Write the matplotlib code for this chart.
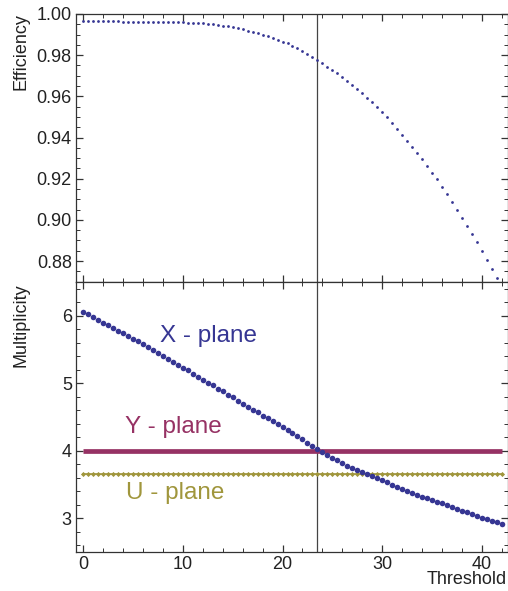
import matplotlib
matplotlib.use("Agg")
import matplotlib.pyplot as plt
from matplotlib.ticker import MultipleLocator

plt.rcParams['font.family'] = ['Liberation Sans', 'DejaVu Sans']

threshold = [0.0, 0.5, 1.0, 1.5, 2.0, 2.5, 3.0, 3.5, 4.0, 4.5, 5.0, 5.5, 6.0, 6.5, 7.0, 7.5,
             8.0, 8.5, 9.0, 9.5, 10.0, 10.5, 11.0, 11.5, 12.0, 12.5, 13.0, 13.5, 14.0, 14.5,
             15.0, 15.5, 16.0, 16.5, 17.0, 17.5, 18.0, 18.5, 19.0, 19.5, 20.0, 20.5, 21.0,
             21.5, 22.0, 22.5, 23.0, 23.5, 24.0, 24.5, 25.0, 25.5, 26.0, 26.5, 27.0, 27.5,
             28.0, 28.5, 29.0, 29.5, 30.0, 30.5, 31.0, 31.5, 32.0, 32.5, 33.0, 33.5, 34.0,
             34.5, 35.0, 35.5, 36.0, 36.5, 37.0, 37.5, 38.0, 38.5, 39.0, 39.5, 40.0, 40.5,
             41.0, 41.5, 42.0]

efficiency = [0.9967, 0.9967, 0.9967, 0.9967, 0.9967, 0.9967, 0.9967, 0.9967,
              0.9963, 0.9963, 0.9963, 0.9963, 0.9963, 0.9963, 0.9963, 0.9963, 0.9963,
              0.9962, 0.9962, 0.9961, 0.9959, 0.9958, 0.9957, 0.9955, 0.9954, 0.9952,
              0.9950, 0.9947, 0.9943, 0.9940, 0.9936, 0.9932, 0.9926, 0.9919, 0.9913,
              0.9906, 0.9898, 0.9892, 0.9883, 0.9874, 0.9865, 0.9857, 0.9845, 0.9833,
              0.9820, 0.9806, 0.9791, 0.9776, 0.9760, 0.9744, 0.9728, 0.9711, 0.9694,
              0.9675, 0.9656, 0.9636, 0.9615, 0.9594, 0.9571, 0.9547, 0.9523, 0.9498,
              0.9472, 0.9443, 0.9414, 0.9385, 0.9355, 0.9324, 0.9294, 0.9262, 0.9229,
              0.9196, 0.9161, 0.9124, 0.9087, 0.9049, 0.9011, 0.8971, 0.8931, 0.8891,
              0.8849, 0.8806, 0.8763, 0.8719, 0.8660]

mult_x = [6.05, 6.02, 5.98, 5.94, 5.90, 5.86, 5.82, 5.78, 5.74, 5.70, 5.66, 5.62, 5.58,
          5.53, 5.49, 5.45, 5.40, 5.36, 5.32, 5.27, 5.23, 5.19, 5.14, 5.10, 5.05, 5.01,
          4.97, 4.92, 4.88, 4.83, 4.79, 4.74, 4.70, 4.65, 4.61, 4.57, 4.52, 4.48, 4.44,
          4.39, 4.35, 4.31, 4.26, 4.22, 4.17, 4.12, 4.07, 4.02, 3.98, 3.94, 3.90, 3.86,
          3.82, 3.78, 3.75, 3.71, 3.68, 3.65, 3.62, 3.59, 3.56, 3.53, 3.50, 3.47, 3.44,
          3.41, 3.38, 3.35, 3.32, 3.30, 3.27, 3.24, 3.22, 3.19, 3.16, 3.14, 3.11, 3.09,
          3.06, 3.04, 3.01, 2.99, 2.96, 2.94, 2.91]

mult_y_level = 4.0
mult_u_level = 3.65
chosen_threshold = 23.5

series_labels = ["X - plane", "Y - plane", "U - plane"]

c_x = "#363693"
c_y = "#963264"
c_u = "#a0963c"
frame_c = "#333333"

fig = plt.figure(figsize=(5.08, 5.91), dpi=100)
W, H = 508, 591
left, right = 76 / W, 507.5 / W
ax1 = fig.add_axes([left, 1 - 282 / H, right - left, (282 - 14) / H])
ax2 = fig.add_axes([left, 1 - 552 / H, right - left, (552 - 282) / H])

for ax in (ax1, ax2):
    ax.set_xlim(-0.75, 42.6)
    ax.xaxis.set_major_locator(MultipleLocator(10))
    ax.xaxis.set_minor_locator(MultipleLocator(2))
    ax.tick_params(which='both', direction='in', top=True, right=True,
                   color=frame_c, labelsize=13, labelcolor='#222222', pad=3)
    ax.tick_params(which='major', length=5, width=0.9)
    ax.tick_params(which='minor', length=3, width=0.7)
    for s in ax.spines.values():
        s.set_color(frame_c)
        s.set_linewidth(0.9)
    ax.axvline(chosen_threshold, color='#444444', lw=0.9, zorder=1)

# Efficiency
ax1.plot(threshold, efficiency, 'o', ms=2.0, color=c_x, mec='none', zorder=3)
ax1.set_ylim(0.8698, 1.0)
ax1.yaxis.set_major_locator(MultipleLocator(0.02))
ax1.yaxis.set_minor_locator(MultipleLocator(0.005))
ax1.yaxis.set_major_formatter(matplotlib.ticker.FormatStrFormatter('%.2f'))
ax1.tick_params(labelbottom=False)

# Multiplicity
ax2.hlines(mult_y_level, threshold[0], threshold[-1], color=c_y, lw=3.4, zorder=2)
ax2.plot(threshold, [mult_u_level] * len(threshold), '-', color=c_u, lw=1.2, zorder=2)
ax2.plot(threshold, [mult_u_level] * len(threshold), 'D', ms=2.6, color=c_u, mec='none', zorder=2)
ax2.plot(threshold, mult_x, 'o', ms=4.0, color=c_x, mec='none', zorder=3)
ax2.set_ylim(2.5, 6.5)
ax2.yaxis.set_major_locator(MultipleLocator(1))
ax2.yaxis.set_minor_locator(MultipleLocator(0.2))

ax2.text(12.6, 5.70, series_labels[0], color=c_x, fontsize=17.5, ha='center', va='center')
ax2.text(9.05, 4.35, series_labels[1], color=c_y, fontsize=17.5, ha='center', va='center')
ax2.text(9.2, 3.37, series_labels[2], color=c_u, fontsize=17.5, ha='center', va='center')

fig.text(21 / W, 1 - 13 / H, "Efficiency", rotation=90, ha='center', va='top',
         fontsize=13, color='#222222')
fig.text(21 / W, 1 - 283 / H, "Multiplicity", rotation=90, ha='center', va='top',
         fontsize=13, color='#222222')
fig.text(507 / W, 1 - 580 / H, "Threshold", ha='right', va='center',
         fontsize=13, color='#222222')

fig.savefig("out.png", dpi=100)
